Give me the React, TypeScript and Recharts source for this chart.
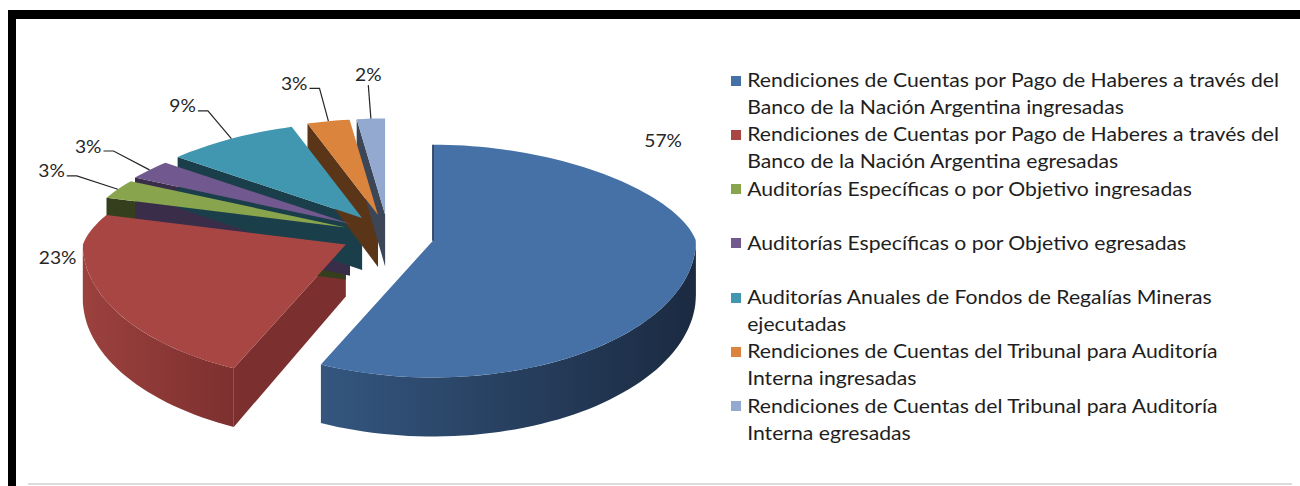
import React from 'react';
import { PieChart, Pie } from 'recharts';

// categories (legend order) and their shares
const categories = [
  'Rendiciones de Cuentas por Pago de Haberes a través del\nBanco de la Nación Argentina ingresadas',
  'Rendiciones de Cuentas por Pago de Haberes a través del\nBanco de la Nación Argentina egresadas',
  'Auditorías Específicas o por Objetivo ingresadas',
  'Auditorías Específicas o por Objetivo egresadas',
  'Auditorías Anuales de Fondos de Regalías Mineras\nejecutadas',
  'Rendiciones de Cuentas del Tribunal para Auditoría\nInterna ingresadas',
  'Rendiciones de Cuentas del Tribunal para Auditoría\nInterna egresadas',
];
const shares = [57, 23, 3, 3, 9, 3, 2];

const topColors = ['#4571a6', '#a84643', '#88a54d', '#71588f', '#4197b0', '#db843d', '#93a9cf'];
const faceColors = ['#22395a', '#7c2f2f', '#363f1d', '#3a2d4a', '#1b3f4a', '#5b3517', '#3d4657'];
const wallLight = ['#34567f', '#9b413e', '#6d843c', '#5a4672', '#33788c', '#af6a31', '#7587a6'];
const wallDark = ['#1b2a41', '#7d302f', '#363f1d', '#3a2d4a', '#1b3f4a', '#5b3517', '#3d4657'];

const pieData = categories.map((name, i) => ({ name, value: shares[i] }));

// fake 3D projection of the pie
const TILT_BACK = 0.365;
const TILT_FRONT = 0.52;
const BACK_SHRINK = 0.14;
const DEPTH = 54;
const EXPLODE = 46;
const EXPLODE_TILT = 0.47;

// big slices get their label placed like excel's best fit
const bigLabelAngle = [43, 265, null, null, null, null, null];
const bigLabelScale = [1.43, 1.1, 1, 1, 1, 1, 1];

const FONT = 'Lato, "Noto Sans", sans-serif';
const STRETCH = 1.13; // the source image is a bit wider than tall

const sin = (d: number) => Math.sin((d * Math.PI) / 180);
const cos = (d: number) => Math.cos((d * Math.PI) / 180);

function geom(p: any) {
  const r = p.outerRadius;
  const t0 = 90 - p.startAngle;
  const t1 = 90 - p.endAngle;
  const tm = (t0 + t1) / 2;
  const vx = p.cx + EXPLODE * sin(tm);
  const vy = p.cy - EXPLODE * EXPLODE_TILT * cos(tm);
  const off = (t: number, k = 1) => {
    const c = cos(t);
    const kx = c > 0 ? 1 - BACK_SHRINK * c : 1;
    const ry = c > 0 ? r * TILT_BACK : r * TILT_FRONT;
    return [r * sin(t) * kx * k, -ry * c * k];
  };
  const rim = (t: number, k = 1) => {
    const [dx, dy] = off(t, k);
    return [vx + dx, vy + dy];
  };
  const depth = (t: number) => DEPTH - 5 * cos(t);
  return { t0, t1, tm, vx, vy, off, rim, depth };
}

const arcPoints = (g: any, a: number, b: number) => {
  const n = Math.max(2, Math.ceil((b - a) / 2));
  const pts = [];
  for (let i = 0; i <= n; i++) pts.push(g.rim(a + ((b - a) * i) / n));
  return pts;
};

const ptsStr = (pts: number[][]) => pts.map((q) => `${q[0].toFixed(1)},${q[1].toFixed(1)}`).join(' ');

const renderFaces = (p: any) => {
  const g = geom(p);
  const faces = [];
  const vDepth = DEPTH - 2;
  [g.t0, g.t1].forEach((t, j) => {
    const show = j === 0 ? sin(t) < -0.01 : sin(t) > 0.01;
    if (!show) return;
    const [x, y] = g.rim(t);
    faces.push(
      <polygon
        key={j}
        points={ptsStr([[g.vx, g.vy], [x, y], [x, y + g.depth(t)], [g.vx, g.vy + vDepth]])}
        fill={faceColors[p.index]}
      />
    );
  });
  return <g key={`f-${p.index}`}>{faces}</g>;
};

const renderWall = (p: any) => {
  const g = geom(p);
  const a = Math.max(g.t0, 90);
  const b = Math.min(g.t1, 270);
  if (b <= a) return <g key={`w-${p.index}`} />;
  const top = arcPoints(g, a, b);
  const bottom = top.map((q, i) => [q[0], q[1] + g.depth(a + ((b - a) * i) / (top.length - 1))]).reverse();
  const xs = top.map((q) => q[0]);
  const id = `wall-${p.index}`;
  return (
    <g key={`w-${p.index}`}>
      <defs>
        <linearGradient id={id} gradientUnits="userSpaceOnUse" x1={Math.min(...xs)} x2={Math.max(...xs)} y1={0} y2={0}>
          <stop offset="0%" stopColor={wallLight[p.index]} />
          <stop offset="100%" stopColor={wallDark[p.index]} />
        </linearGradient>
      </defs>
      <polygon points={ptsStr([...top, ...bottom])} fill={`url(#${id})`} />
    </g>
  );
};

const renderTop = (p: any) => {
  const g = geom(p);
  const pts = [[g.vx, g.vy], ...arcPoints(g, g.t0, g.t1)];
  const [sx, sy] = g.rim(g.t0);
  // a cut face seen edge-on shows as a thin dark line
  const edgeOn = Math.abs(sin(g.t0)) < 0.01;
  return (
    <g key={`t-${p.index}`}>
      <polygon points={ptsStr(pts)} fill={topColors[p.index]} />
      {edgeOn && <line x1={sx} y1={sy} x2={g.vx} y2={g.vy} stroke={faceColors[p.index]} strokeWidth={1.5} />}
    </g>
  );
};

const Label = ({ x, y, anchor, text }: any) => (
  <text
    transform={`translate(${x.toFixed(1)},${y.toFixed(1)}) scale(${STRETCH},1)`}
    textAnchor={anchor}
    dominantBaseline="central"
    fontFamily={FONT}
    fontSize={17}
    fill="#262626"
  >
    {text}
  </text>
);

const renderLabel = (p: any) => {
  const g = geom(p);
  const text = `${Math.round(p.percent * 100)}%`;
  const i = p.index;
  if (bigLabelAngle[i] != null) {
    const [x, y] = g.rim(bigLabelAngle[i] as number, bigLabelScale[i]);
    return <Label key={`l-${i}`} x={x} y={y} anchor="middle" text={text} />;
  }
  const [rx, ry] = g.rim(g.tm);
  const [dx, dy] = g.off(g.tm);
  const ex = g.vx + dx * 1.18;
  const ey = g.vy + dy * 1.35;
  const side = sin(g.tm) < -0.15;
  const hx = side ? ex - 10 : ex;
  return (
    <g key={`l-${i}`}>
      <polyline points={ptsStr([[rx, ry], [ex, ey], [hx, ey]])} fill="none" stroke="#262626" strokeWidth={1.2} />
      {side ? (
        <Label x={hx - 2} y={ey - 5} anchor="end" text={text} />
      ) : (
        <Label x={ex} y={ey - 11} anchor="middle" text={text} />
      )}
    </g>
  );
};

const passes = [renderFaces, renderWall, renderTop, renderLabel];

const LegendBox = () => (
  <div
    style={{
      position: 'absolute',
      left: 731,
      top: 66,
      width: 520,
      fontFamily: FONT,
      fontSize: 19,
      color: '#1e1e1e',
      transform: `scaleX(${1.115})`,
      transformOrigin: '0 0',
    }}
  >
    {categories.map((name, i) => (
      <div key={i} style={{ display: 'flex', height: 54.3 }}>
        <div style={{ width: 9, height: 10, marginTop: 9.5, background: topColors[i], flexShrink: 0 }} />
        <div style={{ marginLeft: 5.5, lineHeight: '27px', whiteSpace: 'pre-line' }}>{name}</div>
      </div>
    ))}
  </div>
);

export default function App() {
  return (
    <div style={{ position: 'absolute', left: 0, top: 0, width: 1300, height: 486, background: '#fff', overflow: 'hidden' }}>
      <div style={{ position: 'absolute', left: 8, top: 10, width: 1292, height: 9, background: '#000' }} />
      <div style={{ position: 'absolute', left: 8, top: 10, width: 8, height: 476, background: '#000' }} />
      <div style={{ position: 'absolute', left: 28, top: 483, width: 1264, height: 2, background: '#dcdcdc' }} />
      <div style={{ position: 'absolute', left: 0, top: 0 }}>
        <PieChart width={1300} height={486} margin={{ top: 0, right: 0, bottom: 0, left: 0 }}>
          {passes.map((fn, k) => (
            <Pie
              key={k}
              data={pieData}
              dataKey="value"
              nameKey="name"
              cx={388}
              cy={236}
              outerRadius={263}
              startAngle={90}
              endAngle={-270}
              fill="none"
              stroke="none"
              legendType="none"
              isAnimationActive={false}
              label={fn}
              labelLine={false}
            />
          ))}
        </PieChart>
      </div>
      <LegendBox />
    </div>
  );
}
